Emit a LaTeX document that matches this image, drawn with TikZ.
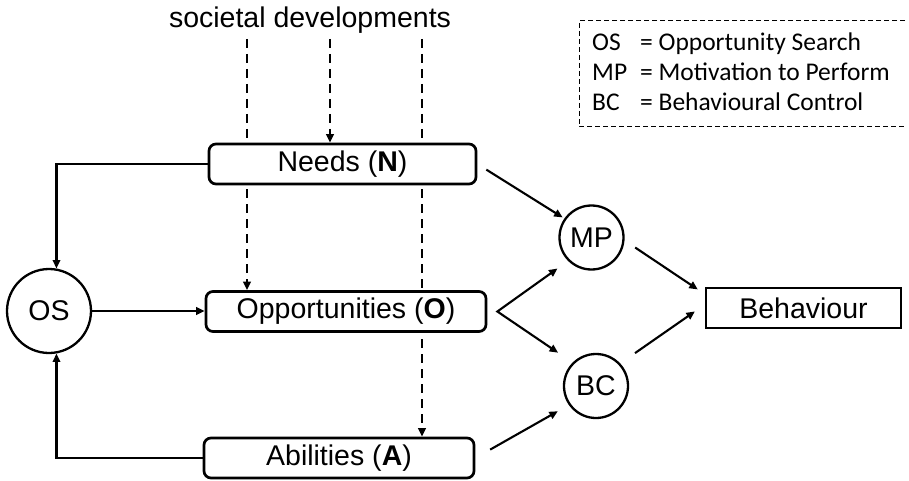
\documentclass[tikz,border=0pt]{standalone}
\usepackage{fontspec}
\setmainfont{Liberation Sans}
\newfontfamily\legendfont{Carlito}
\usetikzlibrary{arrows.meta,calc,backgrounds}

\newcommand\abbrev[1]{\makebox[48pt][l]{#1}}

\begin{document}
\begin{tikzpicture}[x=1pt,y=-1pt,
  >={Triangle[length=8.5pt,width=7.5pt]},
  every node/.style={inner sep=0pt, font=\fontsize{28.5}{34}\selectfont},
  factor/.style={draw, line width=2.7pt, rounded corners=7pt, fill=white, minimum height=40pt},
  ring/.style={draw, circle, line width=2.3pt, fill=white},
  outcome/.style={draw, line width=2.5pt, fill=white, minimum width=195pt, minimum height=40pt},
  flow/.style={line width=2.1pt, ->},
  influence/.style={line width=2.2pt, dash pattern=on 9pt off 6pt, ->},
  keyframe/.style={line width=1pt, dash pattern=on 5pt off 3pt},
  keyline/.style={anchor=base west, font=\legendfont\fontsize{25.5}{30}\selectfont},
]
\useasboundingbox (0,0) rectangle (909,481);

% determinants
\node[factor, minimum width=267pt] (N) at (342.5,164) {Needs (\textbf{N})};
\node[factor, minimum width=280pt] (O) at (346,311.5) {Opportunities (\textbf{O})};
\node[factor, minimum width=270pt] (A) at (339,458) {Abilities (\textbf{A})};

% processes and outcome
\node[ring, minimum size=84pt] (OS) at (49,311) {OS};
\node[ring, minimum size=64pt] (MP) at (591.5,237.5) {MP};
\node[ring, minimum size=64pt] (BC) at (596,386) {BC};
\node[outcome] (B) at (803.5,308) {Behaviour};

% external driver
\node (soc) at (310,20) {societal developments};
\coordinate (d1) at (247,39);
\coordinate (d2) at (330,39);
\coordinate (d3) at (422,39);

\begin{pgfonlayer}{background}
  \draw[influence] (d1) -- (d1 |- O.north);
  \draw[influence] (d2) -- (d2 |- N.north);
  \draw[influence] (d3) -- (d3 |- A.north);
\end{pgfonlayer}

% feedback loop through opportunity search
\draw[flow] (N.west) -| (OS.80);
\draw[flow] (A.west) -| (OS.-80);
\draw[flow] (OS.east) -- (OS.east -| O.west);

% paths towards behaviour
\coordinate (fork) at ($(O.east)+(10,0)$);
\draw[flow, shorten <=10.6pt, shorten >=2pt] (N.east) -- (MP.145);
\draw[line width=2.1pt, <->, shorten <=13pt, shorten >=17.5pt] (MP.225) -- (fork) -- (BC.135);
\draw[flow, shorten <=17pt, shorten >=12.6pt] (A.east) -- (BC.215);
\draw[flow, shorten <=12.8pt, shorten >=8.4pt] (MP.-5) -- (B.172);
\draw[flow, shorten <=18pt, shorten >=12pt] (BC.43) -- (B.178);

% legend
\draw[keyframe] (905,21) -- (579,21) -- (579,127) -- (905,127);
\node[keyline] (k1) at (592,51) {\abbrev{OS}= Opportunity Search};
\node[keyline] (k2) at (592,81) {\abbrev{MP}= Motivation to Perform};
\node[keyline] (k3) at (592,111) {\abbrev{BC}= Behavioural Control};
\end{tikzpicture}
\end{document}
